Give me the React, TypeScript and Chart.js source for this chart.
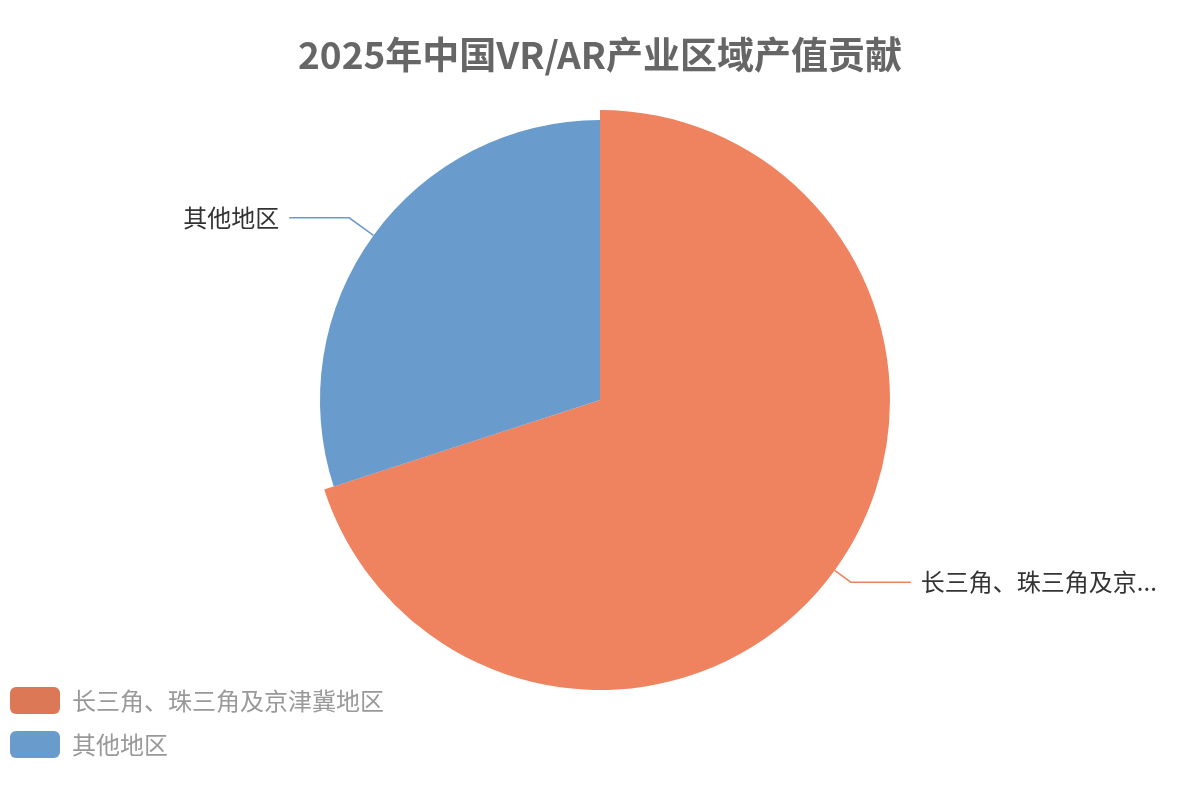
import React, { useEffect, useRef } from 'react';
import { Chart, registerables } from 'chart.js';

Chart.register(...registerables);

// chart data
const TITLE = '2025年中国VR/AR产业区域产值贡献';
const REGIONS = ['长三角、珠三角及京津冀地区', '其他地区'];
const SHARES = [70, 30];
const SLICE_COLORS = ['#ef8360', '#6a9bcd'];
const LEGEND_COLORS = ['#dc7856', '#6a9bcd'];

const FONT = '"Noto Sans CJK SC", "Noto Sans", sans-serif';
const PIE_RADIUS = 280;
const HIGHLIGHT = 0; // slice shown in its hover (enlarged) state
const HIGHLIGHT_GROW = 10;
const LEGEND_SHIFT = { x: -7, y: 23 };

// Draws outside labels with leader lines, and enlarges the highlighted slice
const pieLabels = {
  id: 'pieLabels',
  afterLayout(chart: any) {
    // push the legend to the bottom-left corner
    const lg = chart.legend;
    if (!lg) return;
    lg.left += LEGEND_SHIFT.x;
    lg.right += LEGEND_SHIFT.x;
    lg.top += LEGEND_SHIFT.y;
    lg.bottom += LEGEND_SHIFT.y;
  },
  beforeDatasetsDraw(chart: any) {
    const meta = chart.getDatasetMeta(0);
    meta.data.forEach((arc: any, i: number) => {
      arc.outerRadius = PIE_RADIUS + (i === HIGHLIGHT ? HIGHLIGHT_GROW : 0);
    });
  },
  afterDatasetsDraw(chart: any) {
    const { ctx } = chart;
    const meta = chart.getDatasetMeta(0);
    ctx.save();
    ctx.font = `24px ${FONT}`;
    ctx.textBaseline = 'middle';
    meta.data.forEach((arc: any, i: number) => {
      const { x, y, startAngle, endAngle, outerRadius } = arc.getProps(
        ['x', 'y', 'startAngle', 'endAngle', 'outerRadius'],
        true
      );
      const mid = (startAngle + endAngle) / 2;
      const cos = Math.cos(mid);
      const sin = Math.sin(mid);
      const dir = cos >= 0 ? 1 : -1;
      const x0 = x + cos * outerRadius;
      const y0 = y + sin * outerRadius;
      const x1 = x + cos * (PIE_RADIUS + 30);
      const y1 = y + sin * (PIE_RADIUS + 30);
      const x2 = x1 + dir * 60;

      ctx.strokeStyle = SLICE_COLORS[i];
      ctx.lineWidth = 1.5;
      ctx.beginPath();
      ctx.moveTo(x0, y0);
      ctx.lineTo(x1, y1);
      ctx.lineTo(x2, y1);
      ctx.stroke();

      const tx = x2 + dir * 10;
      const maxW = dir > 0 ? chart.width - tx - 40 : tx - 40;
      let text = REGIONS[i];
      if (ctx.measureText(text).width > maxW) {
        let n = text.length;
        while (n > 0 && ctx.measureText(text.slice(0, n) + '...').width > maxW) n--;
        text = text.slice(0, n) + '...';
      }
      ctx.fillStyle = '#333';
      ctx.textAlign = dir > 0 ? 'left' : 'right';
      ctx.fillText(text, tx, y1);
    });
    ctx.restore();
  },
};

const App: React.FC = () => {
  const canvasRef = useRef<HTMLCanvasElement | null>(null);
  const chartRef = useRef<Chart<'pie', number[], string> | null>(null);

  useEffect(() => {
    document.body.style.margin = '0';
    if (!canvasRef.current) return;
    const ctx = canvasRef.current.getContext('2d');
    if (!ctx) return;
    if (chartRef.current) chartRef.current.destroy();

    chartRef.current = new Chart(ctx, {
      type: 'pie',
      data: {
        labels: REGIONS,
        datasets: [
          {
            data: SHARES,
            backgroundColor: SLICE_COLORS,
            borderWidth: 0,
          },
        ],
      },
      options: {
        animation: false,
        responsive: true,
        maintainAspectRatio: false,
        radius: PIE_RADIUS,
        layout: { padding: { left: 0, right: 0, top: 0, bottom: 24 } },
        plugins: {
          title: {
            display: true,
            text: TITLE,
            color: '#666',
            font: { family: FONT, size: 37, weight: 'bold' },
            padding: { top: 32.8, bottom: -53.2 },
          },
          legend: {
            position: 'chartArea',
            align: 'end',
            labels: {
              boxWidth: 50,
              boxHeight: 27,
              padding: 17,
              useBorderRadius: true,
              borderRadius: 6,
              color: '#999',
              font: { family: FONT, size: 24 },
              generateLabels: () =>
                REGIONS.map((name, i) => ({
                  text: name,
                  fillStyle: LEGEND_COLORS[i],
                  strokeStyle: LEGEND_COLORS[i],
                  lineWidth: 0,
                  fontColor: '#999',
                  borderRadius: 6,
                  hidden: false,
                  index: i,
                })),
            },
          },
          tooltip: { enabled: false },
        },
      } as any,
      plugins: [pieLabels],
    });

    return () => {
      if (chartRef.current) {
        chartRef.current.destroy();
        chartRef.current = null;
      }
    };
  }, []);

  return (
    <div style={{ position: 'relative', width: 1200, height: 800 }}>
      <canvas ref={canvasRef}></canvas>
    </div>
  );
};

export default App;
